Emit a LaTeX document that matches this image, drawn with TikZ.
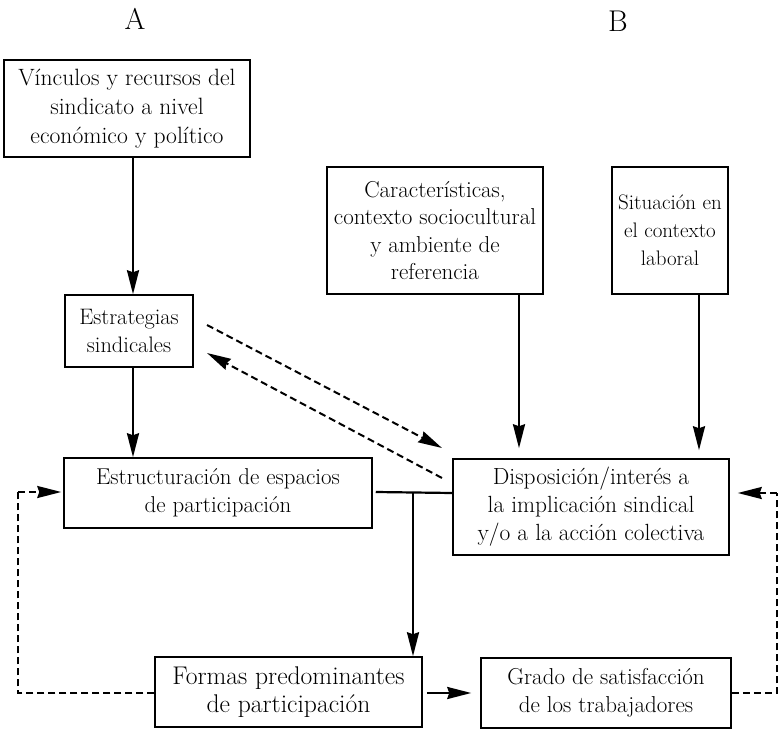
\documentclass[tikz,border=0pt]{standalone}
\usepackage{fontspec}
\setmainfont{Latin Modern Roman}
\usetikzlibrary{arrows.meta,calc}
\begin{document}
\begin{tikzpicture}[x=1pt,y=-1pt,
  box/.style={draw,line width=1.5pt,inner sep=0pt,align=center,font=\fontsize{23}{28}\selectfont},
  arr/.style={line width=2.2pt,-{Stealth[length=24pt,width=12pt,inset=2pt]}},
  darr/.style={line width=2pt,dash pattern=on 7pt off 4pt,-{Stealth[length=24pt,width=12pt,inset=2pt]}},
  dline/.style={line width=2pt,dash pattern=on 7pt off 4pt},
  jline/.style={line width=2.2pt},
  lab/.style={inner sep=0pt,font=\fontsize{30}{34}\selectfont}]
\useasboundingbox (0,0) rectangle (784,730);
\node[lab] (A) at (135,19) {A};
\node[lab] (B) at (618,21) {B};
\node[box,minimum width=246pt,minimum height=97pt,font=\fontsize{23.6}{29}\selectfont] (v) at (127,108.5) {Vínculos y recursos del\\ sindicato a nivel\\ económico y político};
\node[box,minimum width=216pt,minimum height=127pt,font=\fontsize{23}{27.5}\selectfont] (c) at (435,230.5) {Características,\\ contexto sociocultural\\ y ambiente de\\ referencia};
\node[box,minimum width=116pt,minimum height=127pt,font=\fontsize{21}{28}\selectfont] (s) at (670,230.5) {Situación en\\ el contexto\\ laboral};
\node[box,minimum width=128pt,minimum height=72pt,font=\fontsize{22.4}{28}\selectfont] (e) at (129,331) {Estrategias\\ sindicales};
\node[box,minimum width=308pt,minimum height=70pt,font=\fontsize{22.9}{28}\selectfont] (est) at (218,493) {Estructuración de espacios\\ de participación};
\node[box,minimum width=276pt,minimum height=96pt,font=\fontsize{23.4}{28}\selectfont] (d) at (591,507) {Disposición/interés a\\ la implicación sindical\\ y/o a la acción colectiva};
\node[box,minimum width=267pt,minimum height=70pt,font=\fontsize{25.6}{27.5}\selectfont] (f) at (288.5,692) {Formas predominantes\\ de participación};
\node[box,minimum width=250pt,minimum height=70pt] (g) at (606,693) {Grado de satisfacción\\ de los trabajadores};
% helper coordinates
\coordinate (xa) at (133,0);
\coordinate (xc) at (519,0);
\coordinate (xs) at (699,0);
\coordinate (xj) at (413,0);
\coordinate (d1s) at (207,325);
\coordinate (d1e) at (442,448);
\coordinate (d2s) at (442,478);
\coordinate (d2e) at (207,353);
\coordinate (rr) at (777,0);
\coordinate (ll) at (18,0);
\coordinate (yd) at (0,493);
\coordinate (ye) at (0,492);
% arrows
\draw[arr] (v.south -| xa) -- (e.north -| xa);
\draw[arr] (e.south -| xa) -- (est.north -| xa);
\draw[arr] (c.south -| xc) -- ($(d.north -| xc)+(0,-10)$);
\draw[arr] (s.south -| xs) -- ($(d.north -| xs)+(0,-8)$);
\draw[darr] (d1s) -- (d1e);
\draw[darr] (d2s) -- (d2e);
\draw[jline] ($(est.east)+(3,-1)$) -- (d.west |- est.east);
\coordinate (jn) at (xj |- est.east);
\draw[arr] ($(jn)+(0,-1)$) -- (f.north -| xj);
\draw[arr] ($(f.east)+(4,1)$) -- ($(g.west)+(-9,0)$);
\draw[dline] (g.east) -- (g.east -| rr) -- (rr |- yd);
\draw[darr] (rr |- yd) -- ($(d.east |- yd)+(8,0)$);
\draw[dline] (f.west |- g.east) -- (ll |- g.east) -- (ll |- ye);
\draw[darr] (ll |- ye) -- ($(est.west |- ye)+(-2,0)$);
\end{tikzpicture}
\end{document}
